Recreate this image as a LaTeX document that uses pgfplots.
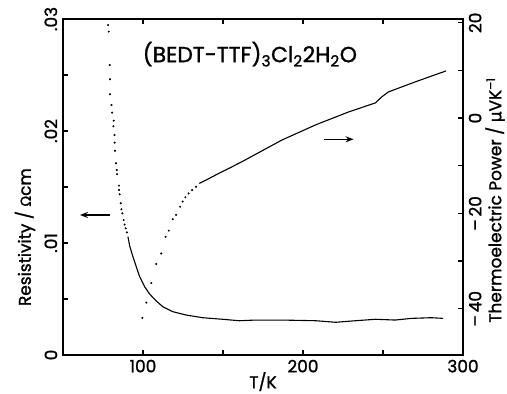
\documentclass[border=0pt]{standalone}
\usepackage{pgfplots}
\pgfplotsset{compat=1.18}
\usetikzlibrary{arrows.meta}
\usepackage{fontspec}
\setmainfont{Poppins}[FakeBold=1.3]
\newfontfamily\dv{DejaVu Sans}[FakeBold=1.3]
\begin{document}
\fontsize{17}{20}\selectfont
\begin{tikzpicture}
\useasboundingbox (-63bp,-39bp) rectangle (444bp,355bp);
\begin{axis}[
  scale only axis, width=400bp, height=336bp,
  xmin=50, xmax=300, ymin=0, ymax=0.03,
  axis line style={line width=1.7bp},
  every tick/.style={line width=1.3bp, black},
  major tick length=5bp,
  tick align=inside,
  ytick pos=left,
  xtick={100,150,200,250,300}, xticklabels={100,,200,,300},
  ytick={0,0.005,0.01,0.015,0.02,0.025,0.03},
  yticklabels={0,,.01,,.02,,.03},
  yticklabel style={rotate=90, anchor=south, font=\fontsize{17}{20}\selectfont},
  xticklabel style={font=\fontsize{17}{20}\selectfont, yshift=1bp},
  xlabel={T/K},
  xlabel style={at={(rel axis cs:0.5,0)}, anchor=north, inner sep=1bp, yshift=-16bp, font=\fontsize{17}{20}\selectfont},
  ylabel={Resistivity / {\dv\fontsize{14}{16}\selectfont Ω}cm},
  ylabel style={at={(rel axis cs:-0.095,0.351)}, anchor=center, font=\fontsize{17}{20}\selectfont},
  scaled y ticks=false,
  clip=false,
]
\addplot[only marks, mark=*, mark size=0.8bp, black] coordinates {
(78.2,0.02946) (78.6,0.02887) (79.2,0.02589) (79.4,0.02462) (79.4,0.02328)
(80.3,0.02232) (80.7,0.02164) (81.7,0.02092) (81.5,0.02042) (82.2,0.01964)
(82.3,0.01896) (82.5,0.01824) (83.1,0.01712) (83.6,0.01652) (83.8,0.01614)
(85.0,0.01512) (85.0,0.01473) (85.4,0.01435) (86.1,0.01355) (86.5,0.01301)
(87.1,0.01265) (87.9,0.01205) (88.5,0.01165) (89.2,0.01131) (89.9,0.01095)
};
\addplot[black, line width=1.1bp] coordinates {
(90.6,0.01056) (91.7,0.00973) (93.7,0.00878) (95.8,0.00788) (97.9,0.00699)
(101.0,0.00610) (104.1,0.00545) (108.3,0.00482) (112.4,0.00431) (118.6,0.00387)
(126.9,0.00357) (137.3,0.00333) (149.7,0.00319) (160.1,0.00306) (170.5,0.00312)
(186.8,0.00312) (208,0.00306) (220.4,0.00292) (232.8,0.00306) (245.3,0.00319)
(257.7,0.00312) (267.7,0.00327) (280.1,0.00333) (287.6,0.00327)
};
\draw[-{Stealth[length=8bp,width=6bp]}, line width=1.5bp] (axis cs:79.2,0.0125) -- (axis cs:60.6,0.0125);
\draw[-{Stealth[length=8bp,width=6bp]}, line width=1.5bp] (axis cs:212.9,0.01926) -- (axis cs:231.6,0.01926);
\node[anchor=base, font=\fontsize{22}{26}\selectfont] at (axis cs:166.8,0.02614)
  {(BEDT-TTF)\textsubscript{3}Cl\textsubscript{2}2H\textsubscript{2}O};
\end{axis}
\begin{axis}[
  scale only axis, width=400bp, height=336bp,
  xmin=50, xmax=300, ymin=-49.7, ymax=20.8,
  hide x axis,
  axis y line*=right,
  axis line style={line width=1.7bp},
  every tick/.style={line width=1.3bp, black},
  major tick length=5bp,
  tick align=inside,
  ytick={-40,-30,-20,-10,0,10,20},
  yticklabels={–\,40,,–\,20,,0,,20},
  yticklabel style={rotate=90, anchor=north, font=\fontsize{17}{20}\selectfont},
  ylabel={Thermoelectric Power / {\dv μ}VK\textsuperscript{–1}},
  ylabel style={at={(rel axis cs:1.08,0.461)}, anchor=center, inner sep=0bp, font=\fontsize{17}{20}\selectfont},
  clip=false,
]
\addplot[only marks, mark=*, mark size=0.8bp, black] coordinates {
(99.6,-41.9) (102.1,-38.7) (105.2,-34.6) (108.3,-30.6) (111.4,-28.4)
(114.1,-24.9) (116.1,-23.6) (118.6,-21.2) (120.7,-20.3) (123.2,-18.6)
(124.8,-17.5) (126.5,-16.6) (128.5,-15.8) (130.7,-15.1) (133.1,-14.4)
};
\addplot[black, line width=1.1bp] coordinates {
(135.2,-13.7) (139.4,-13.0) (145.6,-11.9) (153.9,-10.5) (162.1,-9.1)
(172.5,-7.2) (186.8,-4.6) (208,-1.4) (228.5,1.3) (245.3,3.2)
(249,4.4) (253.4,5.5) (270.1,7.6) (282.6,9.1) (289.4,9.9)
};
\end{axis}
\end{tikzpicture}
\end{document}
